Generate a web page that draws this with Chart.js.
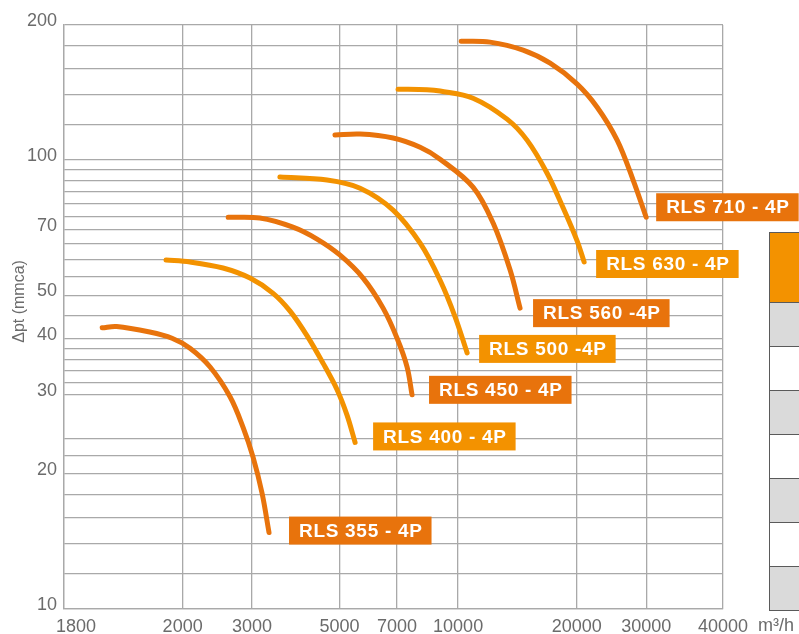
<!DOCTYPE html>
<html>
<head>
<meta charset="utf-8">
<script src="https://cdn.jsdelivr.net/npm/chart.js@4"></script>
<style>
  html, body { margin: 0; padding: 0; background: #fff; }
  #wrap { position: relative; width: 799px; height: 634px; overflow: hidden; }
  #fanChart { position: absolute; left: 0; top: 0; }
  #sidebar { position: absolute; left: 769px; top: 232px; width: 40px; }
  #sidebar div { height: 43px; border: 1px solid #5a5a5a; border-top: none; box-sizing: content-box; }
  #sidebar div:first-child { height: 69px; border-top: 1px solid #5a5a5a; }
</style>
</head>
<body>
<div id="wrap">
  <canvas id="fanChart" width="799" height="634"></canvas>
  <div id="sidebar">
    <div style="background:#f39200"></div>
    <div style="background:#dadada"></div>
    <div style="background:#fff"></div>
    <div style="background:#dadada"></div>
    <div style="background:#fff"></div>
    <div style="background:#dadada"></div>
    <div style="background:#fff"></div>
    <div style="background:#dadada"></div>
  </div>
</div>
<script>
// fan curves: flow (m3/h) vs pressure (mmca)
const models = ['RLS 355 - 4P', 'RLS 400 - 4P', 'RLS 450 - 4P', 'RLS 500 -4P', 'RLS 560 -4P', 'RLS 630 - 4P', 'RLS 710 - 4P'];

const flow355 = [1250, 1360, 1650, 1880, 2088, 2348, 2638, 2847, 3018, 3181, 3313];
const dp355 = [42.3, 42.6, 41.4, 40.1, 38.1, 34.6, 29.7, 25.4, 21.8, 18.1, 14.8];

const flow400 = [1815, 2088, 2532, 2965, 3393, 3747, 4139, 4541, 4931, 5228, 5478];
const dp400 = [59.9, 59.3, 57.5, 54.6, 50.5, 46.1, 40.6, 35.3, 30.8, 27.0, 23.5];

const flow450 = [2610, 3140, 3810, 4386, 5018, 5741, 6452, 7000, 7423, 7640];
const dp450 = [74.6, 74.3, 70.9, 66.7, 61.4, 54.6, 46.8, 40.1, 34.6, 30.0];

const flow500 = [3530, 4650, 5640, 6840, 8010, 9000, 9830, 10540];
const dp500 = [91.7, 90.3, 86.6, 77.4, 65.3, 54.0, 44.7, 37.2];

const flow560 = [4870, 5640, 6840, 8010, 9000, 10910, 12270, 13550, 14360];
const dp560 = [113.7, 114.3, 112, 106.8, 100.5, 87.1, 72.4, 56.9, 46.8];

const flow630 = [7040, 8340, 9000, 10910, 13310, 14960, 16820, 18480, 20050, 20880];
const dp630 = [143.9, 143.5, 142.5, 137.4, 123.4, 110.8, 93.5, 78.2, 66.0, 59.3];

const flow710 = [10180, 12050, 14620, 17120, 20050, 22530, 25320, 27800, 30000];
const dp710 = [184.1, 183.2, 175.8, 164.4, 147.7, 131.2, 110.8, 90.3, 74.6];

const xGrid = [1000, 1072, 2000, 3000, 5000, 7000, 10000, 20000, 30000, 47000];
const xTickText = ['', '1800', '2000', '3000', '5000', '7000', '10000', '20000', '30000', '40000'];
const yGrid = [10, 12, 14, 16, 18, 20, 22, 24, 30, 32, 34, 36, 38, 40, 45, 50, 55, 60, 65, 70,
  75, 80, 85, 90, 95, 100, 120, 140, 160, 180, 200];
const yTickText = [10, 20, 30, 40, 50, 70, 100, 200];

const DARK = '#e8730c';
const LIGHT = '#f39200';
// where each model tag sits relative to the curve end (px)
const tagDx = [20, 18, 17, 12, 13, 12, 10];
const tagDy = [-2, -6, -5, -4, 5, 2, -10];

const flows = [flow355, flow400, flow450, flow500, flow560, flow630, flow710];
const dps = [dp355, dp400, dp450, dp500, dp560, dp630, dp710];

const datasets = models.map((m, i) => ({
  label: m,
  data: flows[i].map((f, j) => ({ x: f, y: dps[i][j] })),
  borderColor: i % 2 === 0 ? DARK : LIGHT,
  backgroundColor: i % 2 === 0 ? DARK : LIGHT,
  borderWidth: 5,
  borderCapStyle: 'round',
  pointRadius: 0,
  tension: 0.35,
  fill: false
}));

const FONT = '"Liberation Sans", Arial, sans-serif';

// model tag drawn next to the last point of each curve
const curveTags = {
  id: 'curveTags',
  afterDatasetsDraw(chart) {
    const ctx = chart.ctx;
    ctx.save();
    ctx.font = 'bold 19px ' + FONT;
    ctx.letterSpacing = '0.7px';
    ctx.textBaseline = 'middle';
    chart.data.datasets.forEach((ds, i) => {
      const pts = chart.getDatasetMeta(i).data;
      const end = pts[pts.length - 1];
      const w = ctx.measureText(ds.label).width + 19;
      const x = end.x + tagDx[i];
      const y = end.y + tagDy[i];
      ctx.fillStyle = ds.borderColor;
      ctx.fillRect(x, y - 14, w, 28);
      ctx.fillStyle = '#fff';
      ctx.fillText(ds.label, x + 10, y + 1);
    });
    // unit next to the flow axis
    ctx.letterSpacing = '0px';
    ctx.font = '18px ' + FONT;
    ctx.fillStyle = '#6b6b6b';
    ctx.textAlign = 'left';
    ctx.fillText('m³/h', 758, 626);
    ctx.restore();
  }
};

document.addEventListener('DOMContentLoaded', () => {
  const ctx = document.getElementById('fanChart').getContext('2d');
  new Chart(ctx, {
    type: 'line',
    data: { datasets },
    plugins: [curveTags],
    options: {
      responsive: false,
      animation: false,
      layout: { padding: { top: 25, right: 76, left: 0, bottom: 0 } },
      plugins: { legend: { display: false }, tooltip: { enabled: false } },
      scales: {
        x: {
          type: 'logarithmic',
          min: 1000,
          max: 47000,
          afterBuildTicks: s => { s.ticks = xGrid.map(v => ({ value: v })); },
          afterFit: s => { s.height = 25; },
          grid: {
            color: c => (c.tick && c.tick.value === 1072 ? 'rgba(0,0,0,0)' : '#a9a9a9'),
            lineWidth: 1.3,
            drawTicks: false
          },
          border: { color: '#a9a9a9', width: 1.3 },
          ticks: {
            autoSkip: false,
            maxRotation: 0,
            padding: 7,
            color: '#6b6b6b',
            font: { family: FONT, size: 18 },
            callback: (v) => { const k = xGrid.indexOf(v); return k >= 0 ? xTickText[k] : ''; }
          }
        },
        y: {
          type: 'logarithmic',
          min: 10,
          max: 200,
          afterBuildTicks: s => { s.ticks = yGrid.map(v => ({ value: v })); },
          afterFit: s => { s.width = 64; },
          grid: { color: '#a9a9a9', lineWidth: 1.3, drawTicks: false },
          border: { color: '#a9a9a9', width: 1.3 },
          title: {
            display: true,
            text: '       Δpt (mmca)',
            color: '#6b6b6b',
            padding: { top: 10, bottom: 0 },
            font: { family: FONT, size: 16 }
          },
          ticks: {
            autoSkip: false,
            padding: 7,
            labelOffset: -4,
            color: '#6b6b6b',
            font: { family: FONT, size: 18 },
            callback: (v) => (yTickText.includes(v) ? String(v) : '')
          }
        }
      }
    }
  });
});
</script>
</body>
</html>
